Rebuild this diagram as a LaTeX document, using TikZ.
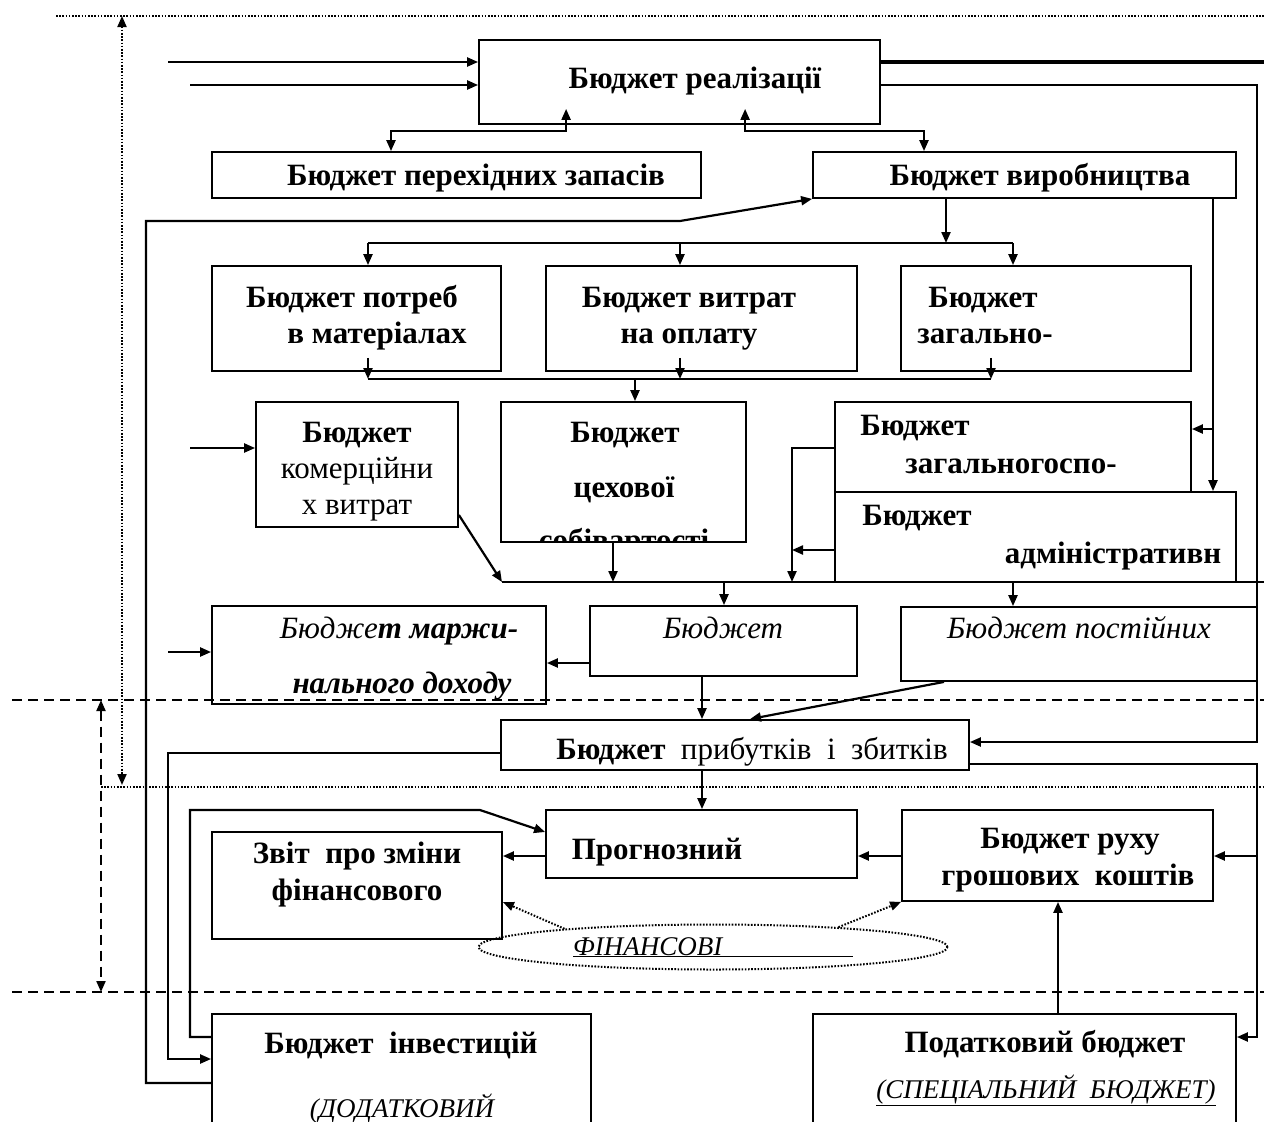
\documentclass[tikz,border=0pt]{standalone}
\usepackage{fontspec}
\setmainfont{Liberation Serif}
\usetikzlibrary{fit,calc,arrows.meta,shapes.geometric}

\begin{document}
\begin{tikzpicture}[x=1pt, y=-1pt,
                blk/.style={draw, line width=1.8pt, inner sep=0pt},
                bt/.style={font=\fontsize{31}{36}\selectfont\bfseries, anchor=base, inner sep=0pt},
                rt/.style={font=\fontsize{31}{36}\selectfont, anchor=base, inner sep=0pt},
                it/.style={font=\fontsize{31}{36}\selectfont\itshape, anchor=base, inner sep=0pt},
                itc/.style={font=\fontsize{27}{32}\selectfont\itshape, anchor=base, inner sep=0pt},
                ln/.style={line width=2.2pt},
                tip/.tip={Triangle[length=11pt, width=9pt]},
                arr/.style={ln, -tip},
                darr/.style={ln, tip-tip},
                dotl/.style={line width=2pt, dash pattern=on 1.6pt off 1.6pt},
                dashl/.style={line width=2pt, dash pattern=on 10pt off 6pt}]
                \clip (0,0) rectangle (1264,1122);
                \fill[white] (0,0) rectangle (1264,1122);
                % boxes
                \node[blk, fit={(479,40) (880,124)}] (real) {};
                \node[blk, fit={(212,152) (701,198)}] (zap) {};
                \node[blk, fit={(813,152) (1236,198)}] (vyr) {};
                \node[blk, fit={(212,266) (501,371)}] (mat) {};
                \node[blk, fit={(546,266) (857,371)}] (opl) {};
                \node[blk, fit={(901,266) (1191,371)}] (zvv) {};
                \node[blk, fit={(256,402) (458,527)}] (kom) {};
                \node[blk, fit={(501,402) (746,542)}] (ceh) {};
                \node[blk, fit={(835,402) (1191,492)}] (zgv) {};
                \node[blk, fill=white, fit={(835,492) (1236,582)}] (adm) {};
                \node[blk, fit={(212,606) (546,704)}] (marzh) {};
                \node[blk, fit={(590,606) (857,676)}] (zmin) {};
                \node[blk, fit={(901,607) (1257,681)}] (post) {};
                \node[blk, fit={(501,720) (969,770)}] (prib) {};
                \node[blk, fit={(546,810) (857,878)}] (prog) {};
                \node[blk, fit={(212,832) (502,939)}] (zvit) {};
                \node[blk, fit={(902,810) (1213,901)}] (ruh) {};
                \node[blk, fit={(212,1014) (591,1150)}] (inv) {};
                \node[blk, fit={(813,1014) (1236,1150)}] (pod) {};
                \node[draw, ellipse, dotl, minimum width=469pt, minimum height=45pt] (fin) at (713,947) {};

                % texts
                \node[bt] (tReal) at (695,88) {Бюджет реалізації};
                \node[bt] (tZap) at (476,185) {Бюджет перехідних запасів};
                \node[bt] (tVyr) at (1040,185) {Бюджет виробництва};
                \node[bt] (tMat1) at (352,307) {Бюджет потреб};
                \node[bt] (tMat2) at (377,343) {в матеріалах};
                \node[bt] (tOpl1) at (689,307) {Бюджет витрат};
                \node[bt] (tOpl2) at (689,343) {на оплату};
                \node[bt] (tZvv1) at (983,307) {Бюджет};
                \node[bt] (tZvv2) at (985,343) {загально-};
                \node[bt] (tKom1) at (357,442) {Бюджет};
                \node[rt] (tKom2) at (357,478) {комерційни};
                \node[rt] (tKom3) at (357,514) {х витрат};
                \node[bt] (tCeh1) at (625,442) {Бюджет};
                \node[bt] (tCeh2) at (624,497) {цехової};
                \begin{scope}
                    \clip (ceh.north west) rectangle (ceh.south east);
                    \node[bt] (tCeh3) at (624,550) {собівартості};
                \end{scope}
                \node[bt] (tZgv1) at (915,435) {Бюджет};
                \node[bt] (tZgv2) at (1011,473) {загальногоспо-};
                \node[bt] (tAdm1) at (917,525) {Бюджет};
                \node[bt] (tAdm2) at (1113,563) {адміністративн};
                \node[it] (tMar1) at (399,638) {Бюдже\textbf{т маржи-}};
                \node[it] (tMar2) at (402,693) {\textbf{нального доходу}};
                \node[it] (tZmin) at (723,638) {Бюджет};
                \node[it] (tPost) at (1079,638) {Бюджет постійних};
                \node[rt] (tPrib) at (752,759) {\textbf{Бюджет}\ \ прибутків\ \ і\ \ збитків};
                \node[bt] (tProg) at (657,859) {Прогнозний};
                \node[bt] (tZvit1) at (357,863) {Звіт\ \ про зміни};
                \node[bt] (tZvit2) at (357,900) {фінансового};
                \node[bt] (tRuh1) at (1070,848) {Бюджет руху};
                \node[bt] (tRuh2) at (1068,885) {грошових\ \ коштів};
                \node[itc, anchor=base west] (tFin) at (573,955) {\underline{\makebox[280pt][l]{ФІНАНСОВІ}}};
                \node[bt] (tInv1) at (401,1053) {Бюджет\ \ інвестицій};
                \node[itc] (tInv2) at (402,1117) {(ДОДАТКОВИЙ};
                \node[bt] (tPod1) at (1045,1052) {Податковий бюджет};
                \node[itc] (tPod2) at (1046,1098) {\underline{(СПЕЦІАЛЬНИЙ\ \ БЮДЖЕТ)}};

                % level lines
                \draw[dotl] (56,16) -- (1264,16);
                \draw[dotl] (101,787) -- (1264,787);
                \draw[dotl, tip-tip] (122,16) -- (122,785);
                \draw[dashl] (12,700) -- (1264,700);
                \draw[dashl] (12,992) -- (1264,992);
                \draw[dashl, tip-tip] (101,700) -- (101,992);

                % connectors
                \coordinate (inR1) at (168,62);
                \coordinate (inR2) at (190,85);
                \coordinate (outR) at (1264,62);
                \draw[arr] (inR1) -- (real.west |- inR1);
                \draw[arr] (inR2) -- (real.west |- inR2);
                \draw[line width=3.5pt] (real.east |- outR) -- (outR);
                \draw[arr] (real.east |- inR2) -| (1257,742) -- (prib.east |- 0,742);
                \draw[darr] ($(real.south west)+(88,-16)$) -- ++(0,22) -| (zap.north -| 391,0);
                \draw[darr] ($(real.south west)+(267,-16)$) -- ++(0,22) -| (vyr.north -| 924,0);
                \draw[arr] (inv.west |- 0,1083) -- (146,1083) -- (146,221) -- (680,221) -- (vyr.south west);

                \coordinate (bus1L) at (368,243);
                \coordinate (bus1R) at (1013,243);
                \draw[arr] (vyr.south -| 946,0) -- (946,243);
                \draw[ln] (bus1L) -- (bus1R);
                \draw[arr] (bus1L) -- (mat.north -| bus1L);
                \draw[arr] (680,243) -- (opl.north -| 680,0);
                \draw[arr] (bus1R) -- (zvv.north -| bus1R);

                \coordinate (bus2L) at (368,379);
                \coordinate (bus2R) at (991,379);
                \draw[arr] ($(mat.south -| bus2L)+(0,-14)$) -- (bus2L);
                \draw[arr] ($(opl.south -| 680,0)+(0,-14)$) -- (680,379);
                \draw[arr] ($(zvv.south -| bus2R)+(0,-14)$) -- (bus2R);
                \draw[ln] (bus2L) -- (bus2R);
                \draw[arr] (635,379) -- (ceh.north -| 635,0);

                \draw[arr] (vyr.south -| 1213,0) -- (adm.north -| 1213,0);
                \draw[arr] (1213,429) -- (zgv.east |- 0,429);

                \coordinate (inK) at (190,448);
                \draw[arr] (inK) -- (kom.west |- inK);
                \coordinate (bus3L) at (502,582);
                \coordinate (bus3R) at (1264,582);
                \draw[ln] (bus3L) -- (bus3R);
                \draw[arr] (kom.east |- 0,515) -- (bus3L);
                \draw[arr] (ceh.south -| 613,0) -- (613,582);
                \draw[arr] (zgv.west |- 0,448) -| (792,582);
                \draw[arr] (adm.west |- 0,550) -- (792,550);
                \draw[arr] (724,582) -- (zmin.north -| 724,0);
                \draw[arr] (1013,582) -- (post.north -| 1013,0);

                \coordinate (inM) at (168,652);
                \draw[arr] (inM) -- (marzh.west |- inM);
                \draw[arr] (zmin.west |- 0,663) -- (marzh.east |- 0,663);
                \draw[arr] (zmin.south -| 702,0) -- (prib.north -| 702,0);
                \draw[arr] (post.south -| 944,0) -- (prib.north -| 750,0);

                \draw[arr] (prib.west |- 0,753) -- (168,753) -- (168,1059) -- (inv.west |- 0,1059);
                \draw[arr] (inv.west |- 0,1037) -- (190,1037) -- (190,810) -- (480,810) -- (prog.west |- 0,832);
                \draw[arr] (prib.south -| 702,0) -- (prog.north -| 702,0);
                \draw[arr] (prib.east |- 0,764) -| (1257,1037) -- (pod.east |- 0,1037);
                \draw[arr] (1257,856) -- (ruh.east |- 0,856);
                \draw[arr] (ruh.west |- 0,856) -- (prog.east |- 0,856);
                \draw[arr] (prog.west |- 0,856) -- (zvit.east |- 0,856);
                \draw[arr] (pod.north -| 1058,0) -- (ruh.south -| 1058,0);
                \draw[dotl, -tip] (fin.173) -- (zvit.east |- 0,902);
                \draw[dotl, -tip] (fin.9) -- (ruh.south west);
            \end{tikzpicture}
\end{document}
